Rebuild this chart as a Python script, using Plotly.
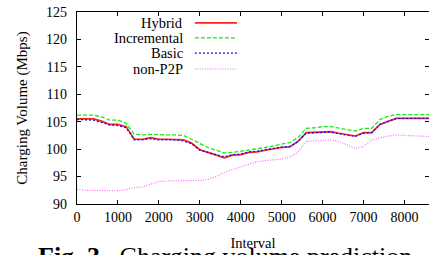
import plotly.graph_objects as go

intervals = list(range(0, 8601, 200))

hybrid = [105.5, 105.5, 105.5, 105.1, 104.5, 104.5, 104.1, 101.8, 101.8, 102.1,
          101.8, 101.8, 101.8, 101.7, 101.1, 99.9, 99.4, 98.9, 98.4, 98.9,
          99.0, 99.4, 99.5, 99.8, 100.1, 100.3, 100.4, 101.4, 103.0, 103.1,
          103.2, 103.2, 102.9, 102.7, 102.4, 103.0, 103.0, 104.5, 105.1, 105.6,
          105.6, 105.6, 105.6, 105.6]

incremental = [106.2, 106.2, 106.2, 105.9, 105.3, 105.3, 104.7, 102.7, 102.6, 102.7,
               102.6, 102.6, 102.6, 102.5, 101.8, 101.1, 100.3, 99.8, 99.3, 99.4,
               99.6, 99.8, 100.0, 100.3, 100.6, 100.9, 101.2, 102.1, 103.8, 103.9,
               104.1, 104.1, 103.8, 103.6, 103.3, 103.8, 103.8, 105.4, 106.0, 106.3,
               106.3, 106.3, 106.3, 106.3]

basic = [105.4, 105.4, 105.3, 104.9, 104.4, 104.3, 103.9, 101.7, 101.7, 101.9,
         101.7, 101.7, 101.7, 101.5, 101.0, 99.8, 99.4, 99.0, 98.6, 99.0,
         99.1, 99.5, 99.6, 99.9, 100.2, 100.4, 100.5, 101.4, 102.9, 103.0,
         103.1, 103.1, 102.8, 102.6, 102.3, 102.9, 103.0, 104.5, 105.1, 105.6,
         105.6, 105.6, 105.6, 105.6]

non_p2p = [92.7, 92.5, 92.5, 92.5, 92.4, 92.4, 92.6, 93.0, 93.1, 93.6,
           94.1, 94.2, 94.2, 94.2, 94.2, 94.3, 94.5, 95.0, 95.8, 96.3,
           96.7, 97.2, 97.7, 97.9, 98.0, 98.2, 98.6, 99.4, 101.4, 101.5,
           101.6, 101.7, 101.4, 100.8, 100.1, 100.5, 101.6, 102.1, 102.4, 102.6,
           102.5, 102.4, 102.3, 102.3]

x_ticks = [0, 1000, 2000, 3000, 4000, 5000, 6000, 7000, 8000]
y_ticks = [90, 95, 100, 105, 110, 115, 120, 125]

series = [
    ("Hybrid", hybrid, "#ff2020", "solid", 1.7),
    ("Incremental", incremental, "#11ee11", "4px,2px", 1.3),
    ("Basic", basic, "#1010ff", "2px,2px", 1.3),
    ("non-P2P", non_p2p, "#ff66ff", "1px,1.5px", 1.2),
]

FONT = "Times New Roman, Liberation Serif, DejaVu Serif, serif"

fig = go.Figure()
for name, vals, color, dash, w in series:
    fig.add_trace(go.Scatter(x=intervals, y=vals, mode="lines", name=name,
                             line=dict(color=color, dash=dash, width=w),
                             showlegend=False))

# invisible trace to anchor right-side tick axis
fig.add_trace(go.Scatter(x=[None], y=[None], yaxis="y2", showlegend=False,
                         hoverinfo="skip"))

# legend (label left of key, like gnuplot)
rows = [0.943, 0.865, 0.786, 0.703]
shapes = []
annotations = []
for (name, vals, color, dash, w), ry in zip(series, rows):
    annotations.append(dict(x=0.307, y=ry, xref="paper", yref="paper",
                            text=name, showarrow=False, xanchor="right",
                            yanchor="middle",
                            font=dict(family=FONT, size=14.5, color="black")))
    shapes.append(dict(type="line", xref="paper", yref="paper",
                       x0=0.335, x1=0.4545, y0=ry, y1=ry,
                       line=dict(color=color, dash=dash, width=w)))

annotations.append(dict(x=0.42, y=-0.19, xref="paper", yref="paper",
                        text="<b>Fig. 3.</b>  Charging volume prediction",
                        showarrow=False, xanchor="center", yanchor="top",
                        font=dict(family=FONT, size=26, color="black")))

fig.update_layout(
    width=429, height=255,
    margin=dict(l=77, r=0, t=12, b=51, autoexpand=False),
    paper_bgcolor="white", plot_bgcolor="white",
    font=dict(family=FONT, size=14, color="black"),
    shapes=shapes, annotations=annotations,
    xaxis=dict(range=[0, 8600], tickvals=x_ticks, ticks="inside", ticklen=4,
               tickcolor="black", showline=True, linecolor="black", linewidth=1.2,
               mirror="ticks", showgrid=False, zeroline=False, automargin=False,
               tickfont=dict(family=FONT, size=14),
               title=dict(text="Interval", font=dict(family=FONT, size=14.5),
                          standoff=13)),
    yaxis=dict(range=[90, 125], tickvals=y_ticks, ticks="inside", ticklen=4,
               tickcolor="black", showline=True, linecolor="black", linewidth=1.2,
               showgrid=False, zeroline=False, ticklabelstandoff=6,
               automargin=False,
               tickfont=dict(family=FONT, size=14),
               title=dict(text="Charging Volume (Mbps)",
                          font=dict(family=FONT, size=15), standoff=14)),
    yaxis2=dict(range=[90, 125], tickvals=y_ticks, ticks="inside", ticklen=4,
                tickcolor="black", overlaying="y", side="right",
                showticklabels=False, showline=False, showgrid=False,
                zeroline=False, automargin=False),
)

fig.write_html("out.html", config={"displayModeBar": False},
               post_script="document.body.style.margin='0';document.body.style.padding='0';")
